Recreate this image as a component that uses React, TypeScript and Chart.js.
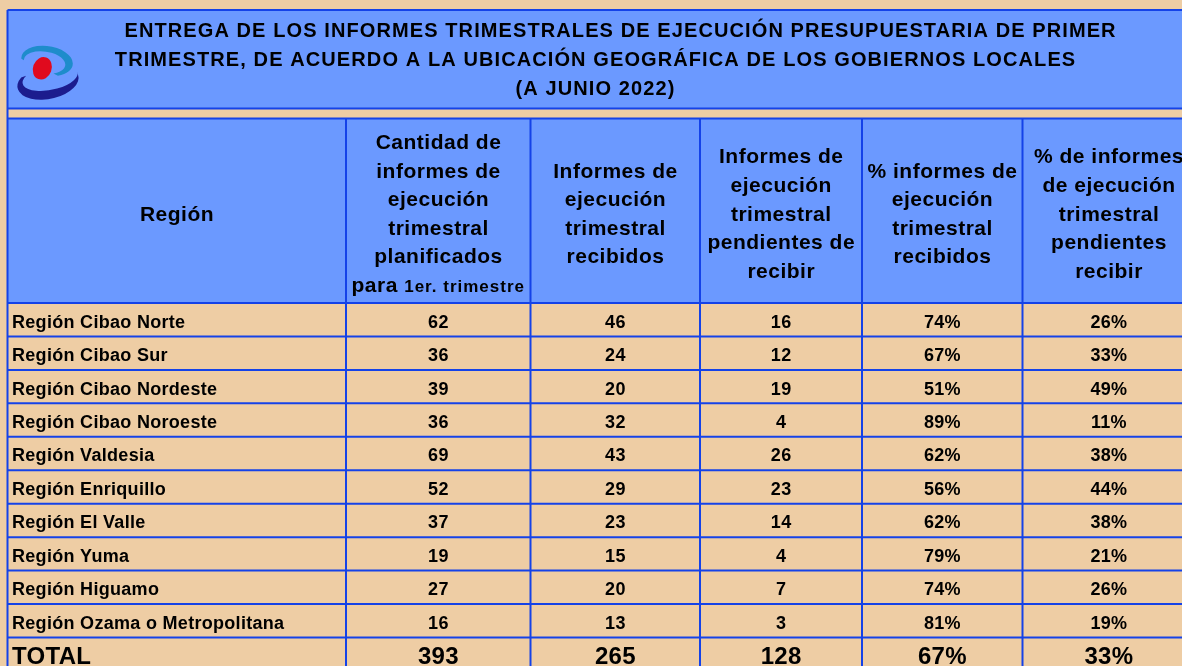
import React, { useEffect, useRef } from "react";
import { Chart, registerables } from "chart.js";

Chart.register(...registerables);

// ---------- DATA ----------
const titleLines = [
  "ENTREGA DE LOS INFORMES TRIMESTRALES DE EJECUCIÓN PRESUPUESTARIA DE PRIMER",
  "TRIMESTRE, DE ACUERDO A LA UBICACIÓN GEOGRÁFICA DE LOS GOBIERNOS LOCALES",
  "(A JUNIO 2022)",
];

const headerRegion = ["Región"];
const headerPlanned = ["Cantidad de", "informes de", "ejecución", "trimestral", "planificados"];
const headerPlannedLast = ["para", "1er. trimestre"];
const headerReceived = ["Informes de", "ejecución", "trimestral", "recibidos"];
const headerPending = ["Informes de", "ejecución", "trimestral", "pendientes de", "recibir"];
const headerPctReceived = ["% informes de", "ejecución", "trimestral", "recibidos"];
const headerPctPending = ["% de informes", "de ejecución", "trimestral", "pendientes", "recibir"];

const regions = [
  "Región Cibao Norte",
  "Región Cibao Sur",
  "Región Cibao Nordeste",
  "Región Cibao Noroeste",
  "Región Valdesia",
  "Región Enriquillo",
  "Región El Valle",
  "Región Yuma",
  "Región Higuamo",
  "Región Ozama o Metropolitana",
];
const planned = [62, 36, 39, 36, 69, 52, 37, 19, 27, 16];
const received = [46, 24, 20, 32, 43, 29, 23, 15, 20, 13];
const pending = [16, 12, 19, 4, 26, 23, 14, 4, 7, 3];
const pctReceived = [74, 67, 51, 89, 62, 56, 62, 79, 74, 81];
const pctPending = [26, 33, 49, 11, 38, 44, 38, 21, 26, 19];

const totalLabel = "TOTAL";
const totals = ["393", "265", "128", "67%", "33%"];

// ---------- LAYOUT / STYLE ----------
const W = 1182;
const H = 666;
const BG = "#EECDA4";
const BLUE = "#6B99FF";
const LINE = "#1442E8";
const FONT = "'Liberation Sans', Arial, sans-serif";

const COL_X = [7.5, 346, 530.5, 700, 862, 1022.5, 1195];
const TITLE_TOP = 10;
const TITLE_BOTTOM = 108.5;
const HEAD_TOP = 118.5;
const HEAD_BOTTOM = 303;
const ROW_H = 33.45;

function txt(
  ctx: CanvasRenderingContext2D,
  s: string,
  x: number,
  y: number,
  size: number,
  align: CanvasTextAlign,
  spacing: number
) {
  ctx.font = `bold ${size}px ${FONT}`;
  (ctx as any).letterSpacing = `${spacing}px`;
  ctx.textAlign = "left";
  ctx.textBaseline = "alphabetic";
  const w = ctx.measureText(s).width - (spacing > 0 ? spacing : 0);
  let sx = x;
  if (align === "center") sx = x - w / 2;
  else if (align === "right") sx = x - w;
  ctx.fillText(s, sx, y);
}

const tablePlugin = {
  id: "tablePlugin",
  beforeDraw(chart: any) {
    const ctx: CanvasRenderingContext2D = chart.ctx;
    const xs = chart.scales.x;
    const ys = chart.scales.y;
    const px = (v: number) => xs.getPixelForValue(v);
    const py = (v: number) => ys.getPixelForValue(v);
    const deg = (d: number) => (d * Math.PI) / 180;
    ctx.save();

    // background
    ctx.fillStyle = BG;
    ctx.fillRect(px(0), py(0), px(W) - px(0), py(H) - py(0));

    const left = px(COL_X[0]);
    const right = px(COL_X[COL_X.length - 1]);

    // title band
    ctx.fillStyle = BLUE;
    ctx.fillRect(left, py(TITLE_TOP), right - left, py(TITLE_BOTTOM) - py(TITLE_TOP));
    // header band
    ctx.fillRect(left, py(HEAD_TOP), right - left, py(HEAD_BOTTOM) - py(HEAD_TOP));

    // logo
    // teal swoosh: over the top, thicker at right, ending below-right
    ctx.fillStyle = "#1E8CCB";
    ctx.beginPath();
    ctx.ellipse(px(47), py(61), 26, 15, 0.15, deg(175), deg(420), false);
    ctx.ellipse(px(44.5), py(62.5), 21, 11, 0.15, deg(420), deg(175), true);
    ctx.closePath();
    ctx.fill();
    // navy swoosh: under the bottom, thick at bottom
    ctx.fillStyle = "#1C1C8E";
    ctx.beginPath();
    ctx.ellipse(px(48), py(82), 31, 17, -0.2, deg(-5), deg(215), false);
    ctx.ellipse(px(50), py(78), 28, 12, -0.2, deg(215), deg(-5), true);
    ctx.closePath();
    ctx.fill();
    // red dot
    ctx.fillStyle = "#E00A1E";
    ctx.beginPath();
    ctx.ellipse(px(42.3), py(68.3), 9.3, 11.5, 0.35, 0, Math.PI * 2);
    ctx.fill();

    // title text
    ctx.fillStyle = "#000";
    const titleCenters = [620, 595, 595];
    const titleBase = [37, 66, 94.5];
    titleLines.forEach((s, i) => txt(ctx, s, px(titleCenters[i]), py(titleBase[i]), 20, "center", 1.1));

    // header text
    const hc = 213;
    const hs = 28.6;
    const hSize = 21;
    const hSp = 0.5;
    const capOff = 0.358 * hSize;
    const colC = (c: number) => (px(COL_X[c]) + px(COL_X[c + 1])) / 2;
    const drawHeader = (lines: string[], c: number, n: number) => {
      lines.forEach((s, i) => {
        const cy = hc + (i - (n - 1) / 2) * hs;
        txt(ctx, s, colC(c), py(cy + capOff), hSize, "center", hSp);
      });
    };
    drawHeader(headerRegion, 0, 1);
    drawHeader(headerPlanned, 1, 6);
    {
      // mixed last line
      const cy = hc + (5 - 2.5) * hs;
      const s2 = 17;
      const sp2 = 1;
      ctx.font = `bold ${hSize}px ${FONT}`;
      (ctx as any).letterSpacing = `${hSp}px`;
      const w1 = ctx.measureText(headerPlannedLast[0] + " ").width;
      ctx.font = `bold ${s2}px ${FONT}`;
      (ctx as any).letterSpacing = `${sp2}px`;
      const w2 = ctx.measureText(headerPlannedLast[1]).width;
      const sx = colC(1) - (w1 + w2) / 2;
      txt(ctx, headerPlannedLast[0], sx, py(cy + capOff), hSize, "left", hSp);
      txt(ctx, headerPlannedLast[1], sx + w1, py(cy + capOff), s2, "left", sp2);
    }
    drawHeader(headerReceived, 2, 4);
    drawHeader(headerPending, 3, 5);
    drawHeader(headerPctReceived, 4, 4);
    drawHeader(headerPctPending, 5, 5);

    // data rows
    const rSize = 18;
    const rSp = 0.3;
    regions.forEach((r, i) => {
      const cy = HEAD_BOTTOM + ROW_H * (i + 0.5) + 1.5;
      const by = py(cy + 0.358 * rSize);
      txt(ctx, r, px(12), by, rSize, "left", rSp);
      const vals = [
        String(planned[i]),
        String(received[i]),
        String(pending[i]),
        `${pctReceived[i]}%`,
        `${pctPending[i]}%`,
      ];
      vals.forEach((v, j) => txt(ctx, v, colC(j + 1), by, rSize, "center", rSp));
    });

    // total row
    {
      const tSize = 24;
      const cy = HEAD_BOTTOM + ROW_H * 10 + 18;
      const by = py(cy + 0.358 * tSize);
      txt(ctx, totalLabel, px(12), by, tSize, "left", 0.3);
      totals.forEach((v, j) => txt(ctx, v, colC(j + 1), by, tSize, "center", 0.3));
    }

    // grid lines
    ctx.strokeStyle = LINE;
    ctx.lineWidth = 2;
    const hline = (y: number) => {
      ctx.beginPath();
      ctx.moveTo(left, py(y));
      ctx.lineTo(right, py(y));
      ctx.stroke();
    };
    const vline = (x: number, y0: number, y1: number) => {
      ctx.beginPath();
      ctx.moveTo(px(x), py(y0));
      ctx.lineTo(px(x), py(y1));
      ctx.stroke();
    };
    hline(TITLE_TOP);
    hline(TITLE_BOTTOM);
    hline(HEAD_TOP);
    for (let i = 0; i <= 10; i++) hline(HEAD_BOTTOM + ROW_H * i);
    vline(COL_X[0], TITLE_TOP, H + 10);
    COL_X.slice(1, -1).forEach((x) => vline(x, HEAD_TOP, H + 10));

    ctx.restore();
  },
};

export default function App() {
  const ref = useRef<HTMLCanvasElement | null>(null);
  useEffect(() => {
    document.body.style.margin = "0";
    if (!ref.current) return;
    const chart = new Chart(ref.current, {
      type: "scatter",
      data: { datasets: [{ data: [], pointRadius: 0 }] },
      options: {
        animation: false,
        responsive: false,
        devicePixelRatio: 1,
        layout: { padding: 0 },
        plugins: { legend: { display: false }, tooltip: { enabled: false }, title: { display: false } },
        scales: {
          x: { type: "linear", min: 0, max: W, display: false },
          y: { type: "linear", min: 0, max: H, reverse: true, display: false },
        },
      },
      plugins: [tablePlugin],
    });
    return () => chart.destroy();
  }, []);
  return (
    <div style={{ position: "fixed", left: 0, top: 0, width: W, height: H }}>
      <canvas ref={ref} width={W} height={H} style={{ display: "block", width: W, height: H }} />
    </div>
  );
}
